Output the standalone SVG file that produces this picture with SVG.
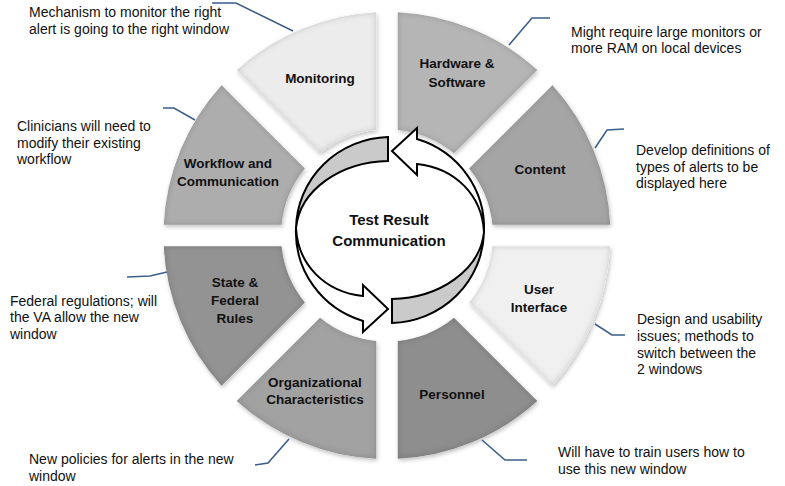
<svg xmlns="http://www.w3.org/2000/svg" width="785" height="486" viewBox="0 0 785 486">
<defs>
<style>
.seg{stroke:none;filter:url(#bev)}
.lbl{font-family:"Liberation Sans",Arial,sans-serif;font-weight:bold;font-size:13.5px;fill:#111;text-anchor:middle}
.ctr{font-family:"Liberation Sans",Arial,sans-serif;font-weight:bold;font-size:15px;fill:#111;text-anchor:middle}
.note{font-family:"Liberation Sans",Arial,sans-serif;font-size:14px;fill:#111}
.lead{fill:none;stroke:#3b5e8c;stroke-width:1.6}
.arw{stroke:#000;stroke-width:2;stroke-linejoin:miter}
</style>
<filter id="bev" x="-10%" y="-10%" width="120%" height="120%">
<feGaussianBlur in="SourceAlpha" stdDeviation="3" result="blur"/>
<feComposite in="SourceAlpha" in2="blur" operator="arithmetic" k2="1" k3="-1" result="edge"/>
<feFlood flood-color="#000" flood-opacity="0.35" result="c"/>
<feComposite in="c" in2="edge" operator="in" result="sh"/>
<feGaussianBlur in="SourceAlpha" stdDeviation="2" result="ob"/>
<feOffset in="ob" dx="1" dy="2" result="oo"/>
<feFlood flood-color="#000" flood-opacity="0.25" result="oc"/>
<feComposite in="oc" in2="oo" operator="in" result="osh"/>
<feMerge><feMergeNode in="osh"/><feMergeNode in="SourceGraphic"/><feMergeNode in="sh"/></feMerge>
</filter>
</defs>
<rect width="785" height="486" fill="#fff"/>

<g id="content"><path class="seg" fill="#a5a5a5" d="M610.24,224.75 A223.5,223.5 0 0 0 552.46,85.25 L469.17,168.54 A106,106 0 0 1 492.45,224.75 Z"/><text class="lbl" x="540" y="174">Content</text></g>
<g id="hardware"><path class="seg" fill="#b5b5b5" d="M537.25,70.04 A223.5,223.5 0 0 0 397.75,12.26 L397.75,130.05 A106,106 0 0 1 453.96,153.33 Z"/><text class="lbl" x="457" y="68">Hardware &amp;</text><text class="lbl" x="457" y="87">Software</text></g>
<g id="monitoring"><path class="seg" fill="#ececec" d="M376.25,12.26 A223.5,223.5 0 0 0 236.75,70.04 L320.04,153.33 A106,106 0 0 1 376.25,130.05 Z"/><text class="lbl" x="320" y="83">Monitoring</text></g>
<g id="workflow"><path class="seg" fill="#adadad" d="M221.54,85.25 A223.5,223.5 0 0 0 163.76,224.75 L281.55,224.75 A106,106 0 0 1 304.83,168.54 Z"/><text class="lbl" x="228" y="168">Workflow and</text><text class="lbl" x="228" y="186">Communication</text></g>
<g id="state"><path class="seg" fill="#939393" d="M163.76,246.25 A223.5,223.5 0 0 0 221.54,385.75 L304.83,302.46 A106,106 0 0 1 281.55,246.25 Z"/><text class="lbl" x="235" y="287">State &amp;</text><text class="lbl" x="235" y="305">Federal</text><text class="lbl" x="235" y="323">Rules</text></g>
<g id="organizational"><path class="seg" fill="#a2a2a2" d="M236.75,400.96 A223.5,223.5 0 0 0 376.25,458.74 L376.25,340.95 A106,106 0 0 1 320.04,317.67 Z"/><text class="lbl" x="315" y="387">Organizational</text><text class="lbl" x="315" y="404">Characteristics</text></g>
<g id="personnel"><path class="seg" fill="#8e8e8e" d="M397.75,458.74 A223.5,223.5 0 0 0 537.25,400.96 L453.96,317.67 A106,106 0 0 1 397.75,340.95 Z"/><text class="lbl" x="452" y="399">Personnel</text></g>
<g id="user-interface"><path class="seg" fill="#f0f0f0" d="M552.46,385.75 A223.5,223.5 0 0 0 610.24,246.25 L492.45,246.25 A106,106 0 0 1 469.17,302.46 Z"/><text class="lbl" x="539" y="294">User</text><text class="lbl" x="539" y="312">Interface</text></g>

<g id="center-cycle">
<g id="arrow-left">
<path class="arw" fill="#cacaca" d="M388,137 A95,93 0 0 0 296,228 C300,190 340,162 388,161 Z"/>
<path class="arw" fill="#fff" d="M296,228 C298,265 325,292 363,296 L363,285 L388,309 L363,332 L363,321 A95,93 0 0 1 296,228 Z"/>
</g>
<g id="arrow-right" transform="rotate(180 390 230)">
<path class="arw" fill="#cacaca" d="M388,137 A95,93 0 0 0 296,228 C300,190 340,162 388,161 Z"/>
<path class="arw" fill="#fff" d="M296,228 C298,265 325,292 363,296 L363,285 L388,309 L363,332 L363,321 A95,93 0 0 1 296,228 Z"/>
</g>
<text class="ctr" x="389" y="225">Test Result</text>
<text class="ctr" x="389" y="246">Communication</text>
</g>

<g id="connectors">
<path class="lead" d="M212,3 L236,3 L293,31"/>
<path class="lead" d="M550,18 L532,18 L509,45"/>
<path class="lead" d="M163,108 L174,108 L195,120"/>
<path class="lead" d="M624,129 L607,130 L595,148"/>
<path class="lead" d="M127,277 L150,276 L167,272"/>
<path class="lead" d="M595,324 L612,335 L625,335"/>
<path class="lead" d="M255,465 L268,463 L289,439"/>
<path class="lead" d="M482,440 L505,460 L527,460"/>
</g>

<g id="notes">
<text class="note" x="29" y="17">Mechanism to monitor the right</text>
<text class="note" x="29" y="34">alert is going to the right window</text>
<text class="note" x="571" y="37">Might require large monitors or</text>
<text class="note" x="571" y="53">more RAM on local devices</text>
<text class="note" x="17" y="131">Clinicians will need to</text>
<text class="note" x="17" y="148">modify their existing</text>
<text class="note" x="17" y="164">workflow</text>
<text class="note" x="636" y="155">Develop definitions of</text>
<text class="note" x="636" y="172">types of alerts to be</text>
<text class="note" x="636" y="188">displayed here</text>
<text class="note" x="10" y="306">Federal regulations; will</text>
<text class="note" x="10" y="322">the VA allow the new</text>
<text class="note" x="10" y="339">window</text>
<text class="note" x="637" y="324">Design and usability</text>
<text class="note" x="637" y="341">issues; methods to</text>
<text class="note" x="637" y="358">switch between the</text>
<text class="note" x="637" y="374">2 windows</text>
<text class="note" x="29" y="464">New policies for alerts in the new</text>
<text class="note" x="29" y="481">window</text>
<text class="note" x="558" y="457">Will have to train users how to</text>
<text class="note" x="558" y="474">use this new window</text>
</g>
</svg>
